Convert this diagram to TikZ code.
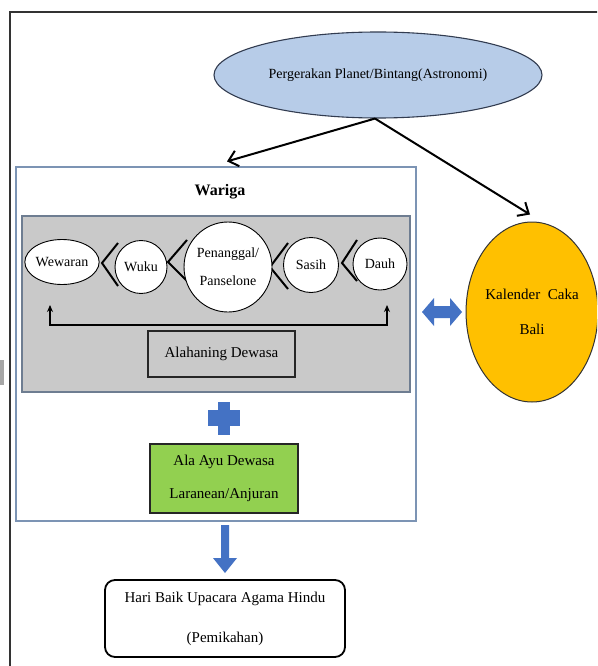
\documentclass[tikz,border=0pt]{standalone}
\usepackage{fontspec}
\setmainfont{Liberation Serif}
\usetikzlibrary{shapes.geometric,arrows.meta,calc}
\definecolor{skyfill}{RGB}{183,204,232}
\definecolor{skyline}{RGB}{50,60,80}
\definecolor{wbord}{RGB}{124,148,180}
\definecolor{greyfill}{RGB}{201,201,201}
\definecolor{greybord}{RGB}{110,125,145}
\definecolor{bluesh}{RGB}{68,114,196}
\definecolor{orangefill}{RGB}{255,192,0}
\definecolor{greenfill}{RGB}{146,208,80}
\begin{document}
\begin{tikzpicture}[x=1pt,y=-1pt,
  txt/.style={font=\fontsize{15}{18}\selectfont},
  oval/.style={ellipse, draw=black, fill=white, line width=0.9, inner sep=0, font=\fontsize{14}{18}\selectfont},
  link/.style={-{Straight Barb[length=9pt,width=16pt]}, line width=2},
  chev/.style={line width=2, black},
  bracket/.style={{Stealth[length=7pt,width=6pt]}-{Stealth[length=7pt,width=6pt]}, line width=1.4},
  plainbox/.style={draw=black!85, line width=1.4, inner sep=0, align=center}
]
\useasboundingbox (0,0) rectangle (597,666);
\clip (0,0) rectangle (597,666);
\fill[white] (0,0) rectangle (597,666);
% outer frame
\draw[line width=2, draw=black!80] (9.5,680) -- (9.5,12.5) -- (610,12.5);
\fill[black!35] (0,360) rectangle (4,385);

% top ellipse
\node[ellipse, draw=skyline, fill=skyfill, line width=1.1, minimum width=328, minimum height=86, inner sep=0,
  font=\fontsize{14}{18}\selectfont] (astro) at (378,75) {Pergerakan Planet/Bintang(Astronomi)};

% Wariga container
\node[draw=wbord, fill=white, line width=1.2, minimum width=400, minimum height=354, inner sep=0] (wariga) at (216,344) {};
\node[font=\fontsize{16}{18}\selectfont\bfseries] (title) at (220,192) {Wariga};
\node[draw=greybord, fill=greyfill, line width=1.2, minimum width=388, minimum height=176, inner sep=0] (grey) at (216,304) {};

% chevrons
\draw[chev] (118,243) -- (102,263) -- (118,286);
\draw[chev] (187,240) -- (168,262) -- (187,281);
\draw[chev] (288,243) -- (270,267) -- (288,289);
\draw[chev] (357,240) -- (342,263) -- (357,281);

% inner ovals
\node[oval, minimum width=72, minimum height=45] (wew) at (62,262) {Wewaran};
\node[oval, minimum width=52, minimum height=53] (wuku) at (141,267) {Wuku};
\node[oval, minimum width=84, minimum height=90, align=center, font=\fontsize{14}{28}\selectfont] (pen) at (228,267) {Penanggal/\\Panselone};
\node[oval, minimum width=55, minimum height=55] (sasih) at (311,265) {Sasih};
\node[oval, minimum width=54, minimum height=52] (dauh) at (380,264) {Dauh};

% bracket arrow
\coordinate (bl) at (50,305);
\coordinate (br) at (387,305);
\draw[bracket] (bl) -- (50,325) -- (387,325) -- (br);

\node[plainbox, fill=greyfill, minimum width=147, minimum height=46, txt] (alah) at (221.5,354) {Alahaning Dewasa};

% plus
\fill[bluesh] (208,410) rectangle (240,426);
\fill[bluesh] (218,402) rectangle (230,435);

\node[plainbox, fill=greenfill, minimum width=148, minimum height=69, font=\fontsize{15}{33}\selectfont] (green) at (224,478.5) {Ala Ayu Dewasa\\Laranean/Anjuran};

% down arrow
\fill[bluesh] (221,525) -- (229,525) -- (229,558) -- (237,558) -- (225,573) -- (213,558) -- (221,558) -- cycle;

\node[draw=black, line width=1.8, rounded corners=10, minimum width=240, minimum height=77, inner sep=0, align=center,
  font=\fontsize{15}{40}\selectfont] (hari) at (225,618.5) {Hari Baik Upacara Agama Hindu\\(Pemikahan)};

% Kalender ellipse
\node[ellipse, draw=black!80, fill=orangefill, line width=1, minimum width=128, minimum height=180, inner sep=0, align=center,
  font=\fontsize{15}{35}\selectfont] (kal) at (532,312) {Kalender\ \ Caka\\Bali};

% double arrow
\fill[bluesh] (422,312) -- (434,298) -- (434,306) -- (450,306) -- (450,298) -- (462,312) -- (450,326) -- (450,318) -- (434,318) -- (434,326) -- cycle;

% arrows from astro
\draw[link] ($(astro.south)+(-3,0)$) -- ($(wariga.north)+(11,-5)$);
\draw[link] ($(astro.south)+(-3,0)$) -- ($(kal.north)+(-2,-7)$);
\end{tikzpicture}
\end{document}
